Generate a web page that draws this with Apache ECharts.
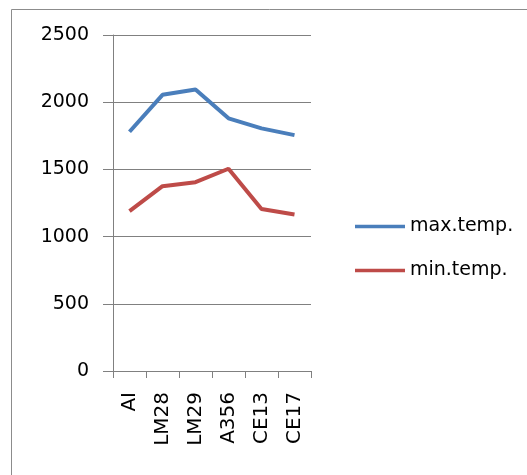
<!DOCTYPE html>
<html>
<head>
<meta charset="utf-8">
<script src="https://cdn.jsdelivr.net/npm/echarts@6/dist/echarts.min.js"></script>
<style>html,body{margin:0;padding:0;background:#fff;}#c{width:527px;height:475px;}</style>
</head>
<body>
<div id="c"></div>
<script>
var categories = ['AI', 'LM28', 'LM29', 'A356', 'CE13', 'CE17'];
var maxTemp = [1780, 2055, 2095, 1880, 1805, 1755];
var minTemp = [1190, 1375, 1405, 1505, 1205, 1165];
var yTicks = [0, 500, 1000, 1500, 2000, 2500];

var chart = echarts.init(document.getElementById('c'));
var font = 'DejaVu Sans, Verdana, sans-serif';
chart.setOption({
  animation: false,
  backgroundColor: '#fff',
  graphic: [{
    type: 'rect', silent: true,
    shape: {x: 11.5, y: 9.5, width: 560, height: 500},
    style: {fill: null, stroke: '#8c8c8c', lineWidth: 1}
  }],
  grid: {left: 113, right: 216, top: 35, bottom: 104, containLabel: false},
  xAxis: {
    type: 'category', data: categories, boundaryGap: true,
    axisLine: {lineStyle: {color: '#808080', width: 1}},
    axisTick: {show: true, length: 7, lineStyle: {color: '#808080'}},
    axisLabel: {rotate: 90, color: '#000', fontSize: 20, fontFamily: font, margin: 21}
  },
  yAxis: {
    type: 'value', min: yTicks[0], max: yTicks[yTicks.length - 1], interval: 500,
    axisLine: {show: true, lineStyle: {color: '#808080', width: 1}},
    axisTick: {show: true, length: 10, lineStyle: {color: '#808080'}},
    splitLine: {show: true, lineStyle: {color: '#808080', width: 1}},
    axisLabel: {color: '#000', fontSize: 19, fontFamily: font, margin: 24,
      formatter: function (v) { return String(v); }}
  },
  legend: {
    orient: 'vertical', left: 350, top: 212, itemWidth: 50, itemHeight: 3.5, itemGap: 25,
    icon: 'rect',
    textStyle: {color: '#000', fontSize: 19, fontFamily: font},
    data: ['max.temp.', 'min.temp.']
  },
  series: [
    {name: 'max.temp.', type: 'line', data: maxTemp, symbol: 'none', color: '#4A7EBB',
     lineStyle: {width: 4, color: '#4A7EBB'}},
    {name: 'min.temp.', type: 'line', data: minTemp, symbol: 'none', color: '#BE4B48',
     lineStyle: {width: 4, color: '#BE4B48'}}
  ]
});
</script>
</body>
</html>
